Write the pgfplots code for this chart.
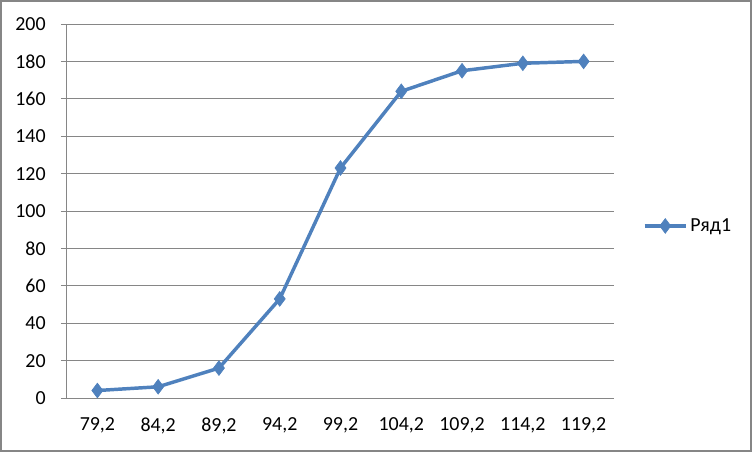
\documentclass[border=0pt]{standalone}
\usepackage{pgfplots}
\pgfplotsset{compat=1.18}
\usepackage{fontspec}
\setmainfont{Carlito}
\definecolor{serblue}{HTML}{4F81BD}
\definecolor{gridgray}{HTML}{868686}
\begin{document}
\begin{tikzpicture}[x=1bp,y=1bp]
\useasboundingbox (-50.25,-40.5) rectangle (513.75,298.5);
\draw[gridgray,line width=1.5] (-49.5,-39.75) rectangle (513,297.75);
\begin{axis}[
  at={(0,0)}, anchor=south west,
  scale only axis,
  width=410.25bp, height=280.5bp,
  xmin=-0.5, xmax=8.5, ymin=0, ymax=200,
  axis x line*=bottom, axis y line*=left,
  axis line style={-,gridgray,line width=0.75bp},
  ytick={0,20,...,200},
  ymajorgrids,
  major grid style={gridgray,line width=0.75bp},
  tick align=outside,
  major tick length=4.5bp,
  tick style={gridgray,line width=0.75bp},
  xtick={0,...,8},
  xticklabels={{79,2},{84,2},{89,2},{94,2},{99,2},{104,2},{109,2},{114,2},{119,2}},
  x tick style={draw=none},
  extra x ticks={-0.5,0.5,...,8.5},
  extra x tick labels={},
  extra x tick style={tick style={draw=gridgray,line width=0.75bp}, major tick length=4.5bp, grid=none},
  /pgf/number format/assume math mode=true,
  ticklabel style={font=\fontsize{15}{18}\selectfont, text=black},
  xticklabel style={yshift=-7bp},
  yticklabel style={xshift=-8bp},
  legend style={at={(1.045,0.46)}, anchor=west, draw=none, fill=none, font=\fontsize{15}{18}\selectfont},
  legend image code/.code={
    \draw[mark repeat=2,mark phase=2] plot coordinates {(0bp,0bp)(15.5bp,0bp)(31bp,0bp)};
  },
  legend cell align=left,
]
\addplot[color=serblue, line width=2.6bp, mark=diamond*, mark size=5.5bp, mark options={solid,fill=serblue,line width=0.5bp}]
  coordinates {(0,4) (1,6) (2,16) (3,53) (4,123) (5,164) (6,175) (7,179) (8,180)};
\addlegendentry{Ряд1}
\end{axis}
\end{tikzpicture}
\end{document}
